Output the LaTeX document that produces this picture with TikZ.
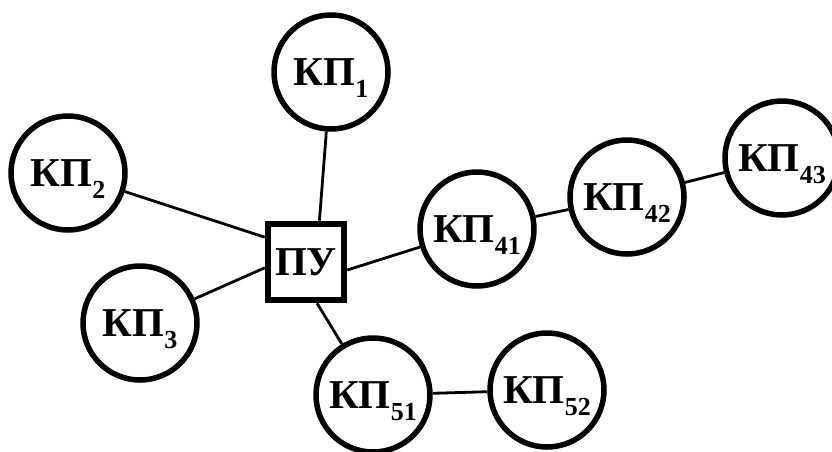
\documentclass[tikz,border=0pt]{standalone}
\usepackage{fontspec}
\setmainfont{Liberation Serif}
\newcommand{\kpname}[1]{КП\smash{\raisebox{-0.3em}{\fontsize{26}{26}\selectfont #1}}}
\begin{document}
\begin{tikzpicture}[x=1pt, y=-1pt]
        \tikzstyle{every node}=[font=\fontsize{41}{41}\selectfont\bfseries];
        \tikzstyle{kp}=[circle, draw, line width=5.5pt, minimum size=114pt, inner sep=0pt];
        \tikzstyle{pubox}=[rectangle, draw, line width=6.5pt, minimum size=76pt, inner sep=0pt];
        \tikzstyle{link}=[line width=2.8pt];
        \useasboundingbox (0,0) rectangle (832,451);

        \node[pubox] (pu) at (306,262) {ПУ};
        \node[kp] (kp1) at (331,72) {\kpname{1}};
        \node[kp] (kp2) at (68,173) {\kpname{2}};
        \node[kp] (kp3) at (140,323) {\kpname{3}};
        \node[kp] (kp41) at (477,229) {\kpname{41}};
        \node[kp] (kp42) at (627,197) {\kpname{42}};
        \node[kp] (kp43) at (782,158) {\kpname{43}};
        \node[kp] (kp51) at (373,395) {\kpname{51}};
        \node[kp] (kp52) at (547,390) {\kpname{52}};

        \draw[link] (kp1) -- (pu.72);
        \draw[link] (kp2) -- (pu.149);
        \draw[link] (kp3) -- (pu.188);
        \draw[link] (kp41) -- (pu.-11);
        \draw[link] (kp51) -- (pu.-75);
        \draw[link] (kp41) -- (kp42);
        \draw[link] (kp42) -- (kp43);
        \draw[link] (kp51) -- (kp52);
\end{tikzpicture}
\end{document}
